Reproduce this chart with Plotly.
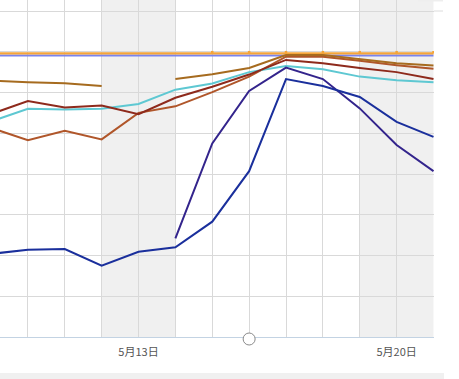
import plotly.graph_objects as go

dates = ["2018-05-09", "2018-05-10", "2018-05-11", "2018-05-12", "2018-05-13",
         "2018-05-14", "2018-05-15", "2018-05-16", "2018-05-17", "2018-05-18",
         "2018-05-19", "2018-05-20", "2018-05-21"]

orange_flat = [69.6] * 13
blue_flat = [69.1] * 13
tan = [62.9, 62.5, 62.3, 61.6, None, 63.3, 64.5, 66.0, 69.2, 69.2, 68.2, 67.2, 66.6]
dark_red = [54.7, 57.9, 56.3, 56.8, 54.7, 58.7, 61.4, 64.4, 68.0, 67.2, 66.0, 65.0, 63.3]
cyan = [52.9, 56.0, 55.8, 56.0, 57.2, 60.7, 62.2, 65.0, 66.5, 65.7, 63.9, 63.0, 62.5]
sienna = [51.3, 48.3, 50.6, 48.5, 55.0, 56.6, 60.1, 63.9, 68.8, 68.8, 67.8, 66.7, 65.8]
indigo = [None, None, None, None, None, 24.2, 47.5, 60.4, 66.1, 63.3, 56.1, 47.1, 40.7]
navy = [20.4, 21.4, 21.6, 17.5, 20.9, 22.0, 28.3, 40.7, 63.3, 61.6, 58.9, 52.8, 49.1]

tick_vals = ["2018-05-13", "2018-05-20"]
tick_text = ["5月13日", "5月20日"]
weekends = [("2018-05-12", "2018-05-14"), ("2018-05-19", "2018-05-21")]
note_date = "2018-05-16"

fig = go.Figure()

series = [
    (blue_flat, "#7b83eb", 2),
    (orange_flat, "#f4a53a", 2.2),
    (sienna, "#b0562a", 2),
    (tan, "#a66b1f", 2),
    (cyan, "#5ec8d2", 2),
    (dark_red, "#8e2a1c", 2),
    (indigo, "#33248c", 2),
    (navy, "#1a2f9c", 2),
]
for vals, color, w in series:
    fig.add_trace(go.Scatter(x=dates, y=vals, mode="lines",
                             line=dict(color=color, width=w),
                             connectgaps=False, showlegend=False,
                             hoverinfo="skip"))

# small markers on the orange line from 5/15 onward
fig.add_trace(go.Scatter(x=dates[6:], y=[v + 0.3 for v in orange_flat[6:]],
                         mode="markers",
                         marker=dict(color="#f4a53a", size=2.5, symbol="square"),
                         showlegend=False, hoverinfo="skip"))

shapes = []
for a, b in weekends:
    shapes.append(dict(type="rect", xref="x", yref="paper", x0=a, x1=b,
                       y0=0, y1=1, fillcolor="#f0f0f0", line=dict(width=0),
                       layer="below"))
# top grid extension and bottom bar
shapes.append(dict(type="line", xref="paper", yref="y", x0=1, x1=443 / 434,
                   y0=80, y1=80, line=dict(color="#dcdcdc", width=1)))
shapes.append(dict(type="rect", xref="paper", yref="paper", x0=0, x1=444 / 434,
                   y0=-42 / 337, y1=-36 / 337, fillcolor="#f0f0f0",
                   line=dict(width=0), layer="below"))
shapes.append(dict(type="rect", xref="paper", yref="paper", x0=418 / 434,
                   x1=443 / 434, y0=1 - 1.5 / 337, y1=1, fillcolor="#eeeeee",
                   line=dict(width=0)))
# note bubble icon on the axis
shapes.append(dict(type="circle", xref="x", yref="paper",
                   xsizemode="pixel", ysizemode="pixel",
                   xanchor=note_date, yanchor=0,
                   x0=-6, x1=6, y0=-8, y1=4,
                   fillcolor="white", line=dict(color="#8a8a8a", width=1)))

fig.update_layout(
    width=459, height=379,
    margin=dict(l=0, r=25, t=0, b=42),
    paper_bgcolor="white", plot_bgcolor="white",
    shapes=shapes,
    xaxis=dict(
        type="date",
        range=["2018-05-09 05:50", "2018-05-21 00:20"],
        tickvals=tick_vals, ticktext=tick_text,
        ticks="", showgrid=True, gridcolor="#d9d9d9", gridwidth=1,
        minor=dict(dtick=86400000, tick0="2018-05-09", showgrid=True,
                   gridcolor="#d9d9d9", gridwidth=1, ticks=""),
        showline=True, linecolor="#c3d3e3", linewidth=1,
        zeroline=False, ticklabelstandoff=5,
        tickfont=dict(family="Noto Sans CJK SC", size=11, color="#555555"),
        fixedrange=True,
    ),
    yaxis=dict(
        range=[0, 337 / 4.075],
        tick0=0, dtick=10,
        showticklabels=False, ticks="",
        showgrid=True, gridcolor="#d9d9d9", gridwidth=1,
        zeroline=False, fixedrange=True,
    ),
)

fig.write_html("out.html", config={"displayModeBar": False},
               post_script="document.body.style.margin='0';document.body.style.overflow='hidden';")
